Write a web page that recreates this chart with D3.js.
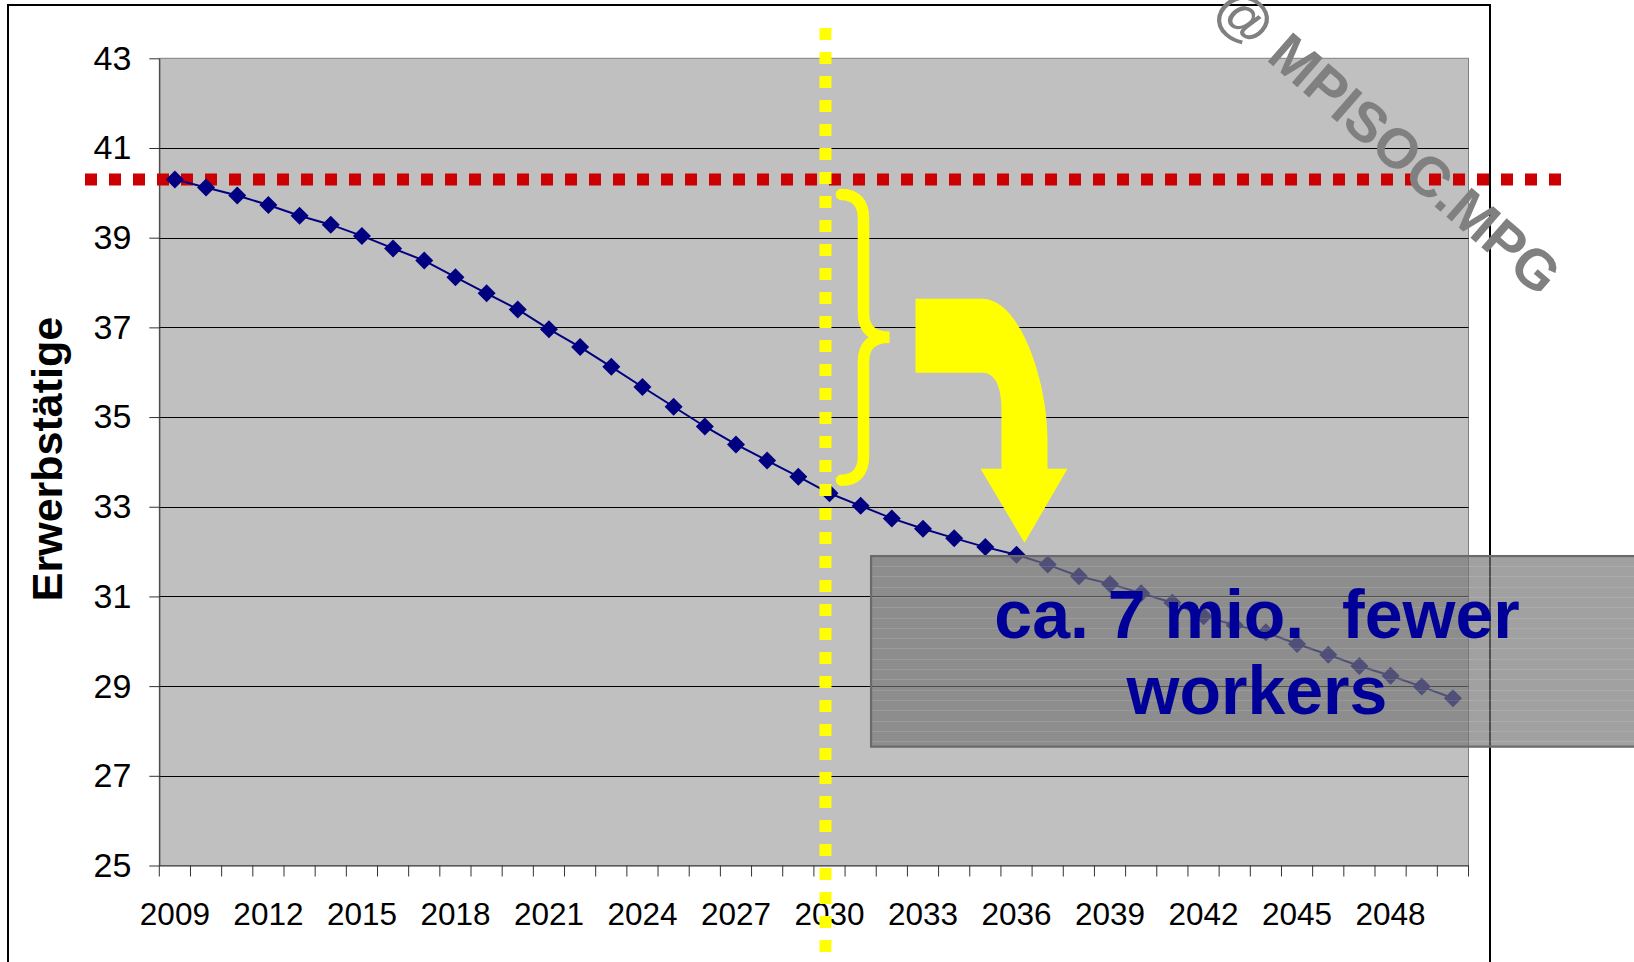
<!DOCTYPE html>
<html>
<head>
<meta charset="utf-8">
<script src="https://cdn.jsdelivr.net/npm/d3@7"></script>
<style>
  body { margin: 0; background: #fff; }
  svg { display: block; font-family: "Liberation Sans", Arial, sans-serif; }
</style>
</head>
<body>
<svg id="chart"></svg>
<script>
const svgWidth = 1634,
  svgHeight = 962,
  plot = {left: 159.3, right: 1468.5, top: 58.3, bottom: 865.5},
  navy = '#000080',
  plotFill = '#c0c0c0'

// employed persons (Erwerbstätige), millions
const years = d3.range(2009, 2051)
const workers = [
  40.30, 40.12, 39.94, 39.73, 39.49, 39.29, 39.04, 38.76, 38.49, 38.12,
  37.76, 37.40, 36.96, 36.56, 36.12, 35.67, 35.23, 34.79, 34.39, 34.03,
  33.67, 33.30, 33.02, 32.74, 32.51, 32.30, 32.10, 31.93, 31.71, 31.45,
  31.28, 31.07, 30.86, 30.56, 30.36, 30.20, 29.94, 29.70, 29.45, 29.23,
  28.99, 28.73
]
const yTicks = [25, 27, 29, 31, 33, 35, 37, 39, 41, 43]
const xLabelYears = years.filter((d, i) => i % 3 === 0)
const refLevel = workers[0]       // red dotted reference at 2009 level
const markYear = 2030              // yellow dotted year
const arrowYear = 2036
const boxLines = ['ca. 7 mio.  fewer', 'workers']
const watermark = '@ MPISOC.MPG'

const data = years.map((y, i) => ({year: y, value: workers[i]}))

const svg = d3.select('#chart')
  .attr('width', svgWidth)
  .attr('height', svgHeight)

const x = d3.scaleBand().domain(years).range([plot.left, plot.right]).padding(0)
const y = d3.scaleLinear().domain([25, 43]).range([plot.bottom, plot.top])
const cx = d => x(d) + x.bandwidth() / 2

// outer frame
svg.append('path')
  .attr('d', `M8,${svgHeight} L8,5 L1490,5 L1490,${svgHeight}`)
  .attr('fill', 'none')
  .attr('stroke', '#000')
  .attr('stroke-width', 2)

// plot area
svg.append('rect')
  .attr('x', plot.left).attr('y', plot.top)
  .attr('width', plot.right - plot.left).attr('height', plot.bottom - plot.top)
  .attr('fill', plotFill)
  .attr('stroke', '#808080')
  .attr('stroke-width', 1)

// gridlines
svg.append('g').selectAll('line')
  .data(yTicks.filter(d => d > 25 && d < 43))
  .join('line')
  .attr('x1', plot.left).attr('x2', plot.right)
  .attr('y1', d => Math.round(y(d)) + 0.5).attr('y2', d => Math.round(y(d)) + 0.5)
  .attr('stroke', '#000')
  .attr('stroke-width', 1)

// y axis
const yAxis = svg.append('g')
  .attr('transform', `translate(${plot.left},0)`)
  .call(d3.axisLeft(y).tickValues(yTicks).tickSize(10).tickPadding(18).tickSizeOuter(0))
yAxis.select('.domain').attr('stroke', '#333')
yAxis.selectAll('.tick line').attr('stroke', '#333')
yAxis.selectAll('.tick text')
  .attr('font-size', 34)
  .attr('font-family', '"Liberation Sans", Arial, sans-serif')
  .attr('fill', '#000')

// x axis: labels every 3 years, ticks at category boundaries
const xAxis = svg.append('g')
  .attr('transform', `translate(0,${plot.bottom})`)
  .call(d3.axisBottom(x).tickValues(xLabelYears).tickSize(0).tickSizeOuter(0))
xAxis.select('.domain').attr('stroke', '#333')
xAxis.selectAll('.tick text')
  .attr('y', 59.5)
  .attr('dy', 0)
  .attr('font-size', 31.5)
  .attr('font-family', '"Liberation Sans", Arial, sans-serif')
  .attr('fill', '#000')

xAxis.append('g').selectAll('line')
  .data(years.map(d => x(d)).concat([x.range()[1]]))
  .join('line')
  .attr('x1', d => d).attr('x2', d => d)
  .attr('y1', 0).attr('y2', 11)
  .attr('stroke', '#333')

// axis title
svg.append('text')
  .attr('transform', 'translate(61.5,459) rotate(-90)')
  .attr('text-anchor', 'middle')
  .attr('font-size', 43)
  .attr('font-weight', 'bold')
  .text('Erwerbstätige')

// red reference line
svg.append('line')
  .attr('x1', 85).attr('x2', 1563)
  .attr('y1', y(refLevel)).attr('y2', y(refLevel))
  .attr('stroke', '#cc0000')
  .attr('stroke-width', 12)
  .attr('stroke-dasharray', '12 12')

// series
const line = d3.line().x(d => cx(d.year)).y(d => y(d.value))
svg.append('path')
  .datum(data)
  .attr('d', line)
  .attr('fill', 'none')
  .attr('stroke', navy)
  .attr('stroke-width', 2)

const m = 9
svg.append('g').selectAll('path')
  .data(data)
  .join('path')
  .attr('d', d => {
    const px = cx(d.year), py = y(d.value)
    return `M${px},${py - m}L${px + m},${py}L${px},${py + m}L${px - m},${py}Z`
  })
  .attr('fill', navy)

// yellow dotted marker year
const xMark = cx(markYear) - 4
svg.append('line')
  .attr('x1', xMark).attr('x2', xMark)
  .attr('y1', 28).attr('y2', 952)
  .attr('stroke', '#ffff00')
  .attr('stroke-width', 12)
  .attr('stroke-dasharray', '12 12')

// brace between the two levels
const bTop = y(refLevel) + 15,
  bBot = y(workers[years.indexOf(markYear)]) - 13,
  bMid = (bTop + bBot) / 2,
  bl = xMark + 16, bv = bl + 22, bt = bl + 48
svg.append('path')
  .attr('d', `M${bl},${bTop} C${bl + 14},${bTop} ${bv},${bTop + 8} ${bv},${bTop + 24}
    L${bv},${bMid - 24} C${bv},${bMid - 9} ${bv + 8},${bMid} ${bt},${bMid}
    C${bv + 8},${bMid} ${bv},${bMid + 9} ${bv},${bMid + 24}
    L${bv},${bBot - 24} C${bv},${bBot - 8} ${bl + 14},${bBot} ${bl},${bBot}`)
  .attr('fill', 'none')
  .attr('stroke', '#ffff00')
  .attr('stroke-width', 11.5)
  .attr('stroke-linecap', 'round')

// bent yellow arrow pointing at the curve
const tx = cx(arrowYear) + 8, ty = y(workers[years.indexOf(arrowYear)]) - 12
svg.append('path')
  .attr('d', `M${tx - 109},${ty - 244} L${tx - 42},${ty - 244}
    C${tx - 5},${ty - 244} ${tx + 23},${ty - 163} ${tx + 23},${ty - 103}
    L${tx + 23},${ty - 74} L${tx + 43},${ty - 74} L${tx},${ty} L${tx - 44},${ty - 74}
    L${tx - 23},${ty - 74} L${tx - 23},${ty - 133}
    C${tx - 23},${ty - 153} ${tx - 28},${ty - 170} ${tx - 42},${ty - 170}
    L${tx - 109},${ty - 170} Z`)
  .attr('fill', '#ffff00')

// translucent striped box with the message
const box = {x: x(2031) + 26, y: y(31.9), w: 800, h: y(27.65) - y(31.9)}
svg.append('rect')
  .attr('x', box.x).attr('y', box.y)
  .attr('width', box.w).attr('height', box.h)
  .attr('fill', 'rgb(116,116,116)')
  .attr('fill-opacity', 0.68)
svg.append('g').selectAll('line')
  .data(d3.range(box.y + 10, box.y + box.h - 2, 10.3))
  .join('line')
  .attr('x1', box.x).attr('x2', box.x + box.w)
  .attr('y1', d => Math.round(d) + 0.5).attr('y2', d => Math.round(d) + 0.5)
  .attr('stroke', '#fff')
  .attr('stroke-opacity', 0.12)
svg.append('rect')
  .attr('x', box.x).attr('y', box.y)
  .attr('width', box.w).attr('height', box.h)
  .attr('fill', 'none')
  .attr('stroke', '#6a6a6a')
  .attr('stroke-width', 2.2)

svg.append('g').selectAll('text')
  .data(boxLines)
  .join('text')
  .attr('x', 1257)
  .attr('y', (d, i) => 638 + i * 76)
  .attr('text-anchor', 'middle')
  .attr('font-size', 68)
  .attr('font-weight', 'bold')
  .attr('fill', '#000099')
  .style('white-space', 'pre')
  .text(d => d)

// watermark
svg.append('text')
  .attr('transform', 'translate(1212,13) rotate(41)')
  .attr('font-size', 56)
  .attr('font-weight', 'bold')
  .attr('fill', '#808080')
  .style('white-space', 'pre')
  .text(watermark)
</script>
</body>
</html>
